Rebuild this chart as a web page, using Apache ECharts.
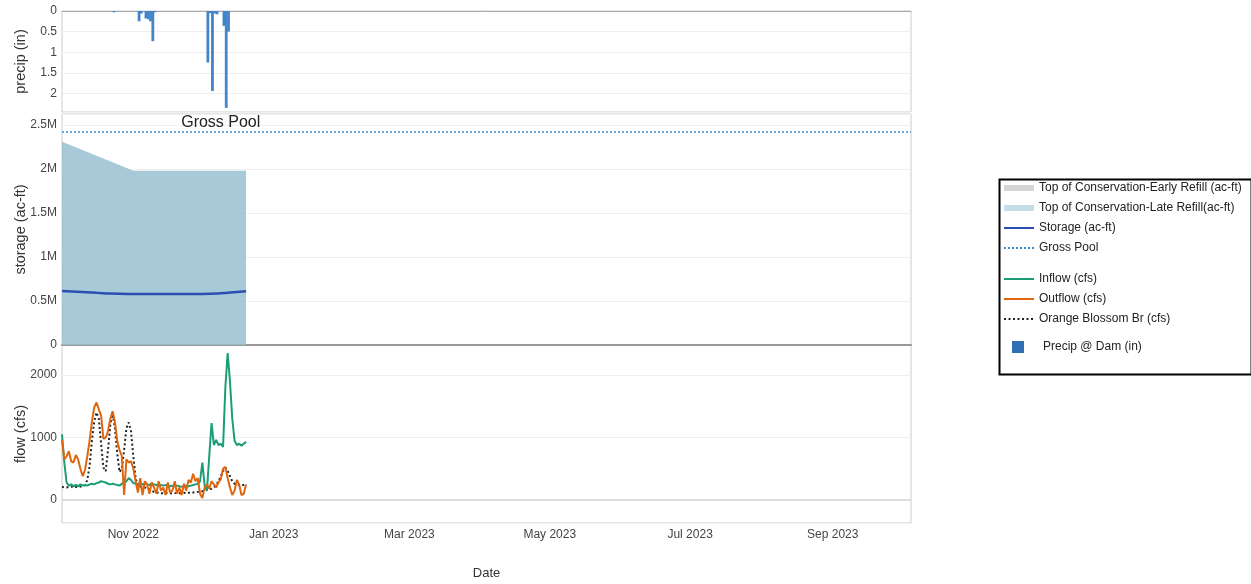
<!DOCTYPE html>
<html>
<head>
<meta charset="utf-8">
<script src="https://cdn.jsdelivr.net/npm/echarts@6.0.0/dist/echarts.min.js"></script>
<style>
  html, body { margin: 0; padding: 0; background: #fff; }
  #chart { width: 1251px; height: 584px; }
</style>
</head>
<body>
<div id="chart"></div>
<script>
// x range and tick labels
const xMin = '2022-10-01';
const xMax = '2023-10-05';
const monthTicks = ['2022-11-01', '2023-01-01', '2023-03-01', '2023-05-01', '2023-07-01', '2023-09-01'];

// precip @ dam (in)
const precipDates = ['2022-10-23', '2022-11-03', '2022-11-04', '2022-11-06', '2022-11-07', '2022-11-08', '2022-11-09', '2022-11-10',
  '2022-12-03', '2022-12-04', '2022-12-05', '2022-12-06', '2022-12-07', '2022-12-10', '2022-12-11', '2022-12-12'];
const precipVals = [0.03, 0.25, 0.06, 0.18, 0.2, 0.25, 0.73, 0.03,
  1.25, 0.05, 1.94, 0.06, 0.08, 0.36, 2.35, 0.5];

// storage panel (ac-ft)
const storageDates = ['2022-10-01', '2022-10-16', '2022-10-22', '2022-11-01', '2022-11-15', '2022-12-01', '2022-12-08', '2022-12-12', '2022-12-20'];
const storageVals = [614000, 594000, 584000, 580000, 579000, 580000, 585000, 594000, 612000];
const tocDates = ['2022-10-01', '2022-11-01', '2022-12-20'];
const tocEarly = [2310000, 1980000, 1980000];
const tocLate = [2310000, 1980000, 1980000];
const grossPool = 2420000;

// flow (cfs), daily from Oct 1 2022
const flowStart = '2022-10-01';
const inflow = [1050, 600, 280, 230, 250, 220, 240, 220, 250, 230, 240, 230, 250, 260, 250, 270, 280, 300, 290, 280,
  260, 250, 260, 250, 240, 230, 260, 280, 300, 350, 320, 270, 260, 250, 270, 250, 260, 250, 240, 260,
  250, 240, 250, 240, 230, 240, 230, 220, 230, 220, 230, 220, 210, 220, 230, 220, 230, 240, 250, 260,
  300, 600, 230, 150, 700, 1230, 880, 960, 880, 900, 850, 1800, 2350, 1900, 1300, 950, 880, 900, 870, 900, 930];
const outflow = [960, 650, 700, 780, 620, 600, 720, 650, 500, 380, 480, 700, 950, 1250, 1480, 1560, 1450, 1350, 980, 1000,
  1100, 1300, 1420, 1250, 950, 800, 700, 80, 650, 600, 620, 500, 300, 120, 350, 80, 300, 250, 100, 280,
  200, 100, 300, 150, 200, 80, 280, 120, 150, 300, 100, 200, 80, 260, 150, 320, 280, 420, 300, 350,
  100, 30, 200, 250, 180, 300, 250, 200, 280, 330, 500, 530, 350, 200, 80, 150, 320, 250, 80, 100, 250];
const orangeBlossom = [210, 205, 200, 210, 215, 200, 210, 205, 215, 220, 240, 320, 550, 950, 1250, 1400, 1300, 900, 520, 460,
  800, 1200, 1380, 1150, 750, 450, 500, 800, 1150, 1240, 1100, 700, 350, 220, 215, 210, 200, 190, 170, 150,
  130, 120, 115, 110, 110, 110, 115, 110, 110, 110, 115, 110, 110, 115, 110, 115, 120, 120, 125, 130,
  135, 140, 150, 160, 170, 180, 200, 240, 300, 380, 460, 520, 460, 380, 300, 260, 250, 240, 240, 240, 240];

const DAY = 86400000;
const t0 = new Date(flowStart + 'T00:00:00').getTime();
const flowDates = inflow.map((_, i) => t0 + i * DAY);
const pair = (dates, vals) => vals.map((v, i) => [dates[i], v]);
const tickSet = new Set(monthTicks.map(d => new Date(d + 'T00:00:00').getTime()));
const monthNames = ['Jan', 'Feb', 'Mar', 'Apr', 'May', 'Jun', 'Jul', 'Aug', 'Sep', 'Oct', 'Nov', 'Dec'];

const font = '"Liberation Sans", Arial, sans-serif';
const gridLine = { show: true, lineStyle: { color: '#efefef', width: 1 } };
const yName = { fontSize: 14.5, color: '#333' };

const chartDom = document.getElementById('chart');
const myChart = echarts.init(chartDom);

function xAxisBase(gridIndex, extra) {
  return Object.assign({
    type: 'time',
    gridIndex: gridIndex,
    min: xMin,
    max: xMax,
    minInterval: 28 * DAY,
    maxInterval: 31 * DAY,
    axisTick: { show: false },
    axisLabel: { show: false },
    splitLine: { show: false },
    axisLine: { show: false }
  }, extra);
}

const option = {
  animation: false,
  textStyle: { fontFamily: font },
  grid: [
    { left: 62, right: 340, top: 11, height: 101, show: true, borderColor: '#ccc', borderWidth: 1 },
    { left: 62, right: 340, top: 114, height: 231, show: true, borderColor: '#ccc', borderWidth: 1 },
    { left: 62, right: 340, top: 345, height: 178, show: true, borderColor: '#ccc', borderWidth: 1 }
  ],
  xAxis: [
    xAxisBase(0, { axisLine: { show: true, onZero: true, lineStyle: { color: '#aaa', width: 1 } } }),
    xAxisBase(1, { axisLine: { show: true, onZero: true, lineStyle: { color: '#999', width: 2 } } }),
    xAxisBase(2, {
      name: 'Date',
      nameLocation: 'middle',
      nameGap: 44,
      nameTextStyle: { fontSize: 13, color: '#333' },
      axisLabel: {
        show: true,
        margin: 6,
        fontSize: 12,
        color: '#444',
        hideOverlap: false,
        formatter: function (v) {
          const d = new Date(v);
          const key = new Date(d.getFullYear(), d.getMonth(), d.getDate()).getTime();
          if (!tickSet.has(key)) return '';
          return monthNames[d.getMonth()] + ' ' + d.getFullYear();
        }
      }
    })
  ],
  yAxis: [
    {
      type: 'value', gridIndex: 0, inverse: true, min: 0, max: 2.45, interval: 0.5,
      name: 'precip (in)', nameLocation: 'middle', nameGap: 34, nameMoveOverlap: false,
      nameTextStyle: yName,
      axisLine: { show: false }, axisTick: { show: false },
      axisLabel: { fontSize: 12, color: '#444', margin: 5,
        formatter: v => (Math.abs(v * 2 - Math.round(v * 2)) < 1e-6 ? String(v) : '') },
      splitLine: gridLine
    },
    {
      type: 'value', gridIndex: 1, min: 0, max: 2625000, interval: 500000,
      name: 'storage (ac-ft)', nameLocation: 'middle', nameGap: 34, nameMoveOverlap: false,
      nameTextStyle: yName,
      axisLine: { show: false }, axisTick: { show: false },
      axisLabel: { fontSize: 12, color: '#444', margin: 5,
        formatter: v => (v === 0 ? '0' : (v % 500000 === 0 ? (v / 1e6) + 'M' : '')) },
      splitLine: gridLine
    },
    {
      type: 'value', gridIndex: 2, min: -368, max: 2480, splitNumber: 3,
      name: 'flow (cfs)', nameLocation: 'middle', nameGap: 34, nameMoveOverlap: false,
      nameTextStyle: yName,
      axisLine: { show: false }, axisTick: { show: false },
      axisLabel: { fontSize: 12, color: '#444', margin: 5,
        formatter: v => (v % 1000 === 0 ? String(v) : '') },
      splitLine: gridLine
    }
  ],
  legend: [
    {
      orient: 'vertical', left: 1003, top: 181, padding: 0,
      itemWidth: 30, itemHeight: 6, itemGap: 6,
      itemStyle: { opacity: 0 },
      textStyle: { fontSize: 12, color: '#222', lineHeight: 14, fontFamily: font },
      data: [
        { name: 'Top of Conservation-Early Refill (ac-ft)', icon: 'rect', itemStyle: { color: '#d6d6d6', opacity: 1 } },
        { name: 'Top of Conservation-Late Refill(ac-ft)', icon: 'rect', itemStyle: { color: '#c4dbe8', opacity: 1 } },
        { name: 'Storage (ac-ft)' },
        { name: 'Gross Pool' }
      ]
    },
    {
      orient: 'vertical', left: 1003, top: 272, padding: 0,
      itemWidth: 30, itemHeight: 6, itemGap: 6,
      itemStyle: { opacity: 0 },
      textStyle: { fontSize: 12, color: '#222', lineHeight: 14, fontFamily: font },
      data: ['Inflow (cfs)', 'Outflow (cfs)', 'Orange Blossom Br (cfs)']
    },
    {
      orient: 'vertical', left: 1012, top: 340, padding: 0,
      itemWidth: 12, itemHeight: 12,
      textStyle: { fontSize: 12, color: '#222', lineHeight: 14, fontFamily: font, padding: [0, 0, 0, 14] },
      data: [{ name: 'Precip @ Dam (in)', icon: 'rect', itemStyle: { color: '#2f6fb6' } }]
    }
  ],
  graphic: [
    {
      type: 'rect', left: 997, top: 177, silent: true,
      shape: { width: 252, height: 195 },
      style: { fill: 'none', stroke: '#000', lineWidth: 2 }
    }
  ],
  series: [
    {
      name: 'Precip @ Dam (in)', type: 'bar', xAxisIndex: 0, yAxisIndex: 0,
      barWidth: 2.8, itemStyle: { color: '#4484c8' },
      data: pair(precipDates, precipVals)
    },
    {
      name: 'Top of Conservation-Early Refill (ac-ft)', type: 'line', xAxisIndex: 1, yAxisIndex: 1,
      symbol: 'none', lineStyle: { width: 0, color: '#d6d6d6' },
      areaStyle: { color: 'rgba(200,200,200,0.5)', opacity: 1 },
      data: pair(tocDates, tocEarly)
    },
    {
      name: 'Top of Conservation-Late Refill(ac-ft)', type: 'line', xAxisIndex: 1, yAxisIndex: 1,
      symbol: 'none', lineStyle: { width: 0, color: '#c4dbe8' },
      areaStyle: { color: 'rgba(138,188,210,0.66)', opacity: 1 },
      data: pair(tocDates, tocLate)
    },
    {
      name: 'Storage (ac-ft)', type: 'line', xAxisIndex: 1, yAxisIndex: 1,
      symbol: 'none', smooth: true, lineStyle: { width: 2.5, color: '#2c4fb4' },
      itemStyle: { color: '#2c4fb4' },
      data: pair(storageDates, storageVals)
    },
    {
      name: 'Gross Pool', type: 'line', xAxisIndex: 1, yAxisIndex: 1,
      symbol: 'none', lineStyle: { width: 1.5, color: '#3a8ad0', type: [2, 2] },
      itemStyle: { color: '#3a8ad0' },
      data: [[xMin, grossPool], [xMax, grossPool]],
      markPoint: {
        symbol: 'circle', symbolSize: 0, silent: true,
        label: { show: true, position: 'top', distance: 1, formatter: 'Gross Pool', fontSize: 16, color: '#222', fontFamily: font },
        data: [{ coord: ['2022-12-09', grossPool] }]
      }
    },
    {
      name: 'Orange Blossom Br (cfs)', type: 'line', xAxisIndex: 2, yAxisIndex: 2,
      symbol: 'none', lineStyle: { width: 2, color: '#222', type: [2, 2.5] },
      itemStyle: { color: '#222' },
      data: pair(flowDates, orangeBlossom),
      markLine: {
        silent: true, symbol: 'none', label: { show: false },
        lineStyle: { color: '#d4d4d4', width: 1.5, type: 'solid' },
        data: [{ yAxis: 0 }]
      }
    },
    {
      name: 'Inflow (cfs)', type: 'line', xAxisIndex: 2, yAxisIndex: 2,
      symbol: 'none', lineStyle: { width: 2, color: '#1b9e77' },
      itemStyle: { color: '#1b9e77' },
      data: pair(flowDates, inflow)
    },
    {
      name: 'Outflow (cfs)', type: 'line', xAxisIndex: 2, yAxisIndex: 2,
      symbol: 'none', lineStyle: { width: 2, color: '#e0650f' },
      itemStyle: { color: '#e0650f' },
      data: pair(flowDates, outflow)
    }
  ]
};

option && myChart.setOption(option);
window.addEventListener('resize', function () {
  myChart.resize();
});
</script>
</body>
</html>
